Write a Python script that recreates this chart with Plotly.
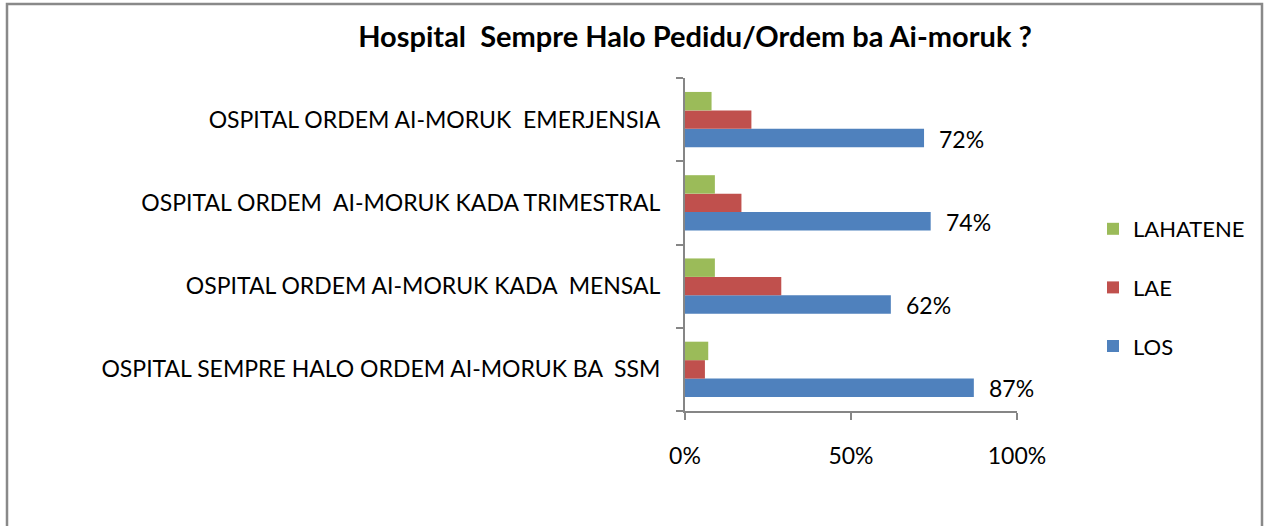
import plotly.graph_objects as go

W, H = 1267, 526
categories = [
    "OSPITAL SEMPRE HALO ORDEM AI-MORUK BA \u00a0SSM",
    "OSPITAL ORDEM AI-MORUK KADA \u00a0MENSAL",
    "OSPITAL ORDEM \u00a0AI-MORUK KADA TRIMESTRAL",
    "OSPITAL ORDEM AI-MORUK \u00a0EMERJENSIA",
]
los = [0.87, 0.62, 0.74, 0.72]
lae = [0.06, 0.29, 0.17, 0.20]
lahatene = [0.07, 0.09, 0.09, 0.08]
series_names = ["LOS", "LAE", "LAHATENE"]
legend_ranks = [3, 2, 1]
colors = ["#4F81BD", "#C0504D", "#9BBB59"]
x_ticks = [0, 0.5, 1.0]
x_tick_labels = ["0%", "50%", "100%"]
title_text = "Hospital \u00a0Sempre Halo Pedidu/Ordem ba Ai-moruk ?"

FONT = "Lato, 'Open Sans', sans-serif"
AXIS = "#868686"

fig = go.Figure()
for name, vals, col, rk in zip(series_names, [los, lae, lahatene], colors, legend_ranks):
    fig.add_trace(go.Bar(
        y=categories, x=vals, name=name, orientation="h",
        marker=dict(color=col, line=dict(width=0)),
        legendgroup=name, legendrank=rk, hoverinfo="skip",
    ))

# data labels for LOS
for cat, v in zip(categories, los):
    fig.add_annotation(
        x=v, y=cat, text=f"{round(v*100)}%", showarrow=False,
        xanchor="left", yanchor="middle", xshift=13, yshift=-19,
        font=dict(family=FONT, size=23, color="#000000"),
    )

ml, mr, mt, mb = 685, W - 1017, 78, H - 411
pw, ph = W - ml - mr, H - mt - mb

def px_x(p):
    return (p - ml) / pw

def px_y(p):
    return (H - mb - p) / ph

# outer frame
fig.add_shape(type="rect", xref="paper", yref="paper",
              x0=px_x(7), x1=px_x(1262), y0=px_y(560), y1=px_y(4),
              line=dict(color="#898989", width=2.5), fillcolor="rgba(0,0,0,0)", layer="below")

fig.update_layout(
    width=W, height=H,
    margin=dict(l=ml, r=mr, t=mt, b=mb, autoexpand=False),
    paper_bgcolor="white", plot_bgcolor="white",
    barmode="group", bargap=0.335, bargroupgap=0,
    font=dict(family=FONT, size=23, color="#000000"),
    title=dict(text=f"<b>{title_text}</b>", x=695 / W, xanchor="center",
               y=1 - 37 / H, yanchor="middle", xref="container", yref="container",
               font=dict(family=FONT, size=29, color="#000000")),
    legend=dict(x=px_x(1093), xanchor="left", y=px_y(208), yanchor="top",
                traceorder="grouped", tracegroupgap=27,
                font=dict(family=FONT, size=22), bgcolor="rgba(0,0,0,0)"),
    xaxis=dict(range=[0, 1], tickvals=x_ticks, ticktext=x_tick_labels,
               showgrid=False, zeroline=False, showline=True, linecolor=AXIS, linewidth=2,
               ticks="outside", ticklen=7, tickcolor=AXIS, tickwidth=2,
               ticklabelstandoff=16, tickfont=dict(family=FONT, size=23)),
    yaxis=dict(categoryorder="array", categoryarray=categories,
               showgrid=False, zeroline=False, showline=True, linecolor=AXIS, linewidth=2,
               ticks="outside", ticklen=7, tickcolor=AXIS, tickwidth=2, tickson="boundaries",
               ticklabelstandoff=18, tickfont=dict(family=FONT, size=23)),
)

fig.write_html("out.html", config={"displayModeBar": False},
               post_script="document.body.style.margin='0';document.body.style.overflow='hidden';")
